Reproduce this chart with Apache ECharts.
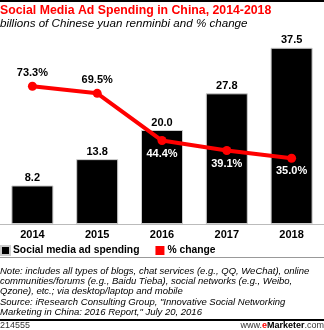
<!DOCTYPE html>
<html>
<head>
<meta charset="utf-8">
<script src="https://cdn.jsdelivr.net/npm/echarts@6/dist/echarts.min.js"></script>
<style>
  html, body { margin: 0; padding: 0; background: #fff; }
  #chart { width: 324px; height: 330px; }
</style>
</head>
<body>
<div id="chart"></div>
<script>
// Social media ad spending in China, 2014-2018
const years = ['2014', '2015', '2016', '2017', '2018'];
const spending = [8.2, 13.8, 20.0, 27.8, 37.5];      // billions of yuan
const pctChange = [73.3, 69.5, 44.4, 39.1, 35.0];    // % change

const FONT = '"Liberation Sans", Arial, sans-serif';
const noteLines = [
  'Note: includes all types of blogs, chat services (e.g., QQ, WeChat), online',
  'communities/forums (e.g., Baidu Tieba), social networks (e.g., Weibo,',
  'Qzone), etc.; via desktop/laptop and mobile',
  'Source: iResearch Consulting Group, "Innovative Social Networking',
  'Marketing in China: 2016 Report," July 20, 2016'
];

const chart = echarts.init(document.getElementById('chart'));

const graphics = [
  { type: 'rect', shape: { x: 0, y: 0, width: 324, height: 2 }, style: { fill: '#000' } },
  { type: 'text', left: 0, top: 5, style: { text: 'Social Media Ad Spending in China, 2014-2018', font: 'bold 12.3px ' + FONT, fill: '#ff0000' } },
  { type: 'text', left: 0, top: 18, style: { text: 'billions of Chinese yuan renminbi and % change', font: 'italic 11.6px ' + FONT, fill: '#000' } },
  { type: 'rect', shape: { x: 0, y: 257, width: 324, height: 1 }, style: { fill: '#999' } },
  { type: 'rect', shape: { x: 0, y: 319, width: 324, height: 2 }, style: { fill: '#000' } },
  { type: 'text', left: 0, top: 321, style: { text: '214555', font: '9px ' + FONT, fill: '#333' } },
  { type: 'text', right: 0, top: 321, style: {
      text: '{w|www.}{e|e}{m|Marketer}{w|.com}',
      rich: {
        w: { font: '9px ' + FONT, fill: '#333' },
        e: { font: 'bold 9px ' + FONT, fill: '#ff0000' },
        m: { font: 'bold 9px ' + FONT, fill: '#000' }
      }
  } }
];
noteLines.forEach((t, i) => {
  graphics.push({ type: 'text', left: 0, top: 266 + i * 10.3, style: { text: t, font: 'italic 9.5px ' + FONT, fill: '#000' } });
});

chart.setOption({
  animation: false,
  textStyle: { fontFamily: FONT },
  grid: { left: -4, right: -4.5, top: 36, bottom: 106, containLabel: false },
  legend: {
    left: 0, top: 245, padding: 0,
    itemWidth: 9, itemHeight: 9, itemGap: 16,
    icon: 'rect',
    textStyle: { fontSize: 10.3, fontWeight: 'bold', color: '#000', padding: [0, 0, 0, -2] },
    data: ['Social media ad spending', '% change']
  },
  xAxis: {
    type: 'category',
    data: years,
    axisTick: { show: false },
    axisLine: { lineStyle: { color: '#bbb', width: 1 } },
    axisLabel: { fontSize: 11, fontWeight: 'bold', color: '#000', margin: 5 }
  },
  yAxis: [
    { type: 'value', min: 0, max: 40, show: false, splitLine: { show: false } },
    { type: 'value', min: 0, max: 100, show: false, splitLine: { show: false } }
  ],
  series: [
    {
      name: 'Social media ad spending',
      type: 'bar',
      data: spending,
      barWidth: 42,
      itemStyle: { color: '#000', borderColor: '#ccc', borderWidth: 1 },
      label: {
        show: true, position: 'top', distance: 2,
        fontSize: 11, fontWeight: 'bold', color: '#000',
        formatter: p => p.value.toFixed(1)
      }
    },
    {
      name: '% change',
      type: 'line',
      yAxisIndex: 1,
      data: pctChange.map((v, i) => ({
        value: v,
        label: i < 2
          ? { position: 'top', color: '#000', distance: 3 }
          : { position: 'bottom', color: '#fff', distance: 3 }
      })),
      symbol: 'circle',
      symbolSize: 9,
      lineStyle: { color: '#ff0000', width: 4 },
      itemStyle: { color: '#ff0000' },
      label: {
        show: true, fontSize: 11, fontWeight: 'bold',
        formatter: p => p.value.toFixed(1) + '%'
      },
      z: 5
    }
  ],
  graphic: graphics
});
</script>
</body>
</html>
